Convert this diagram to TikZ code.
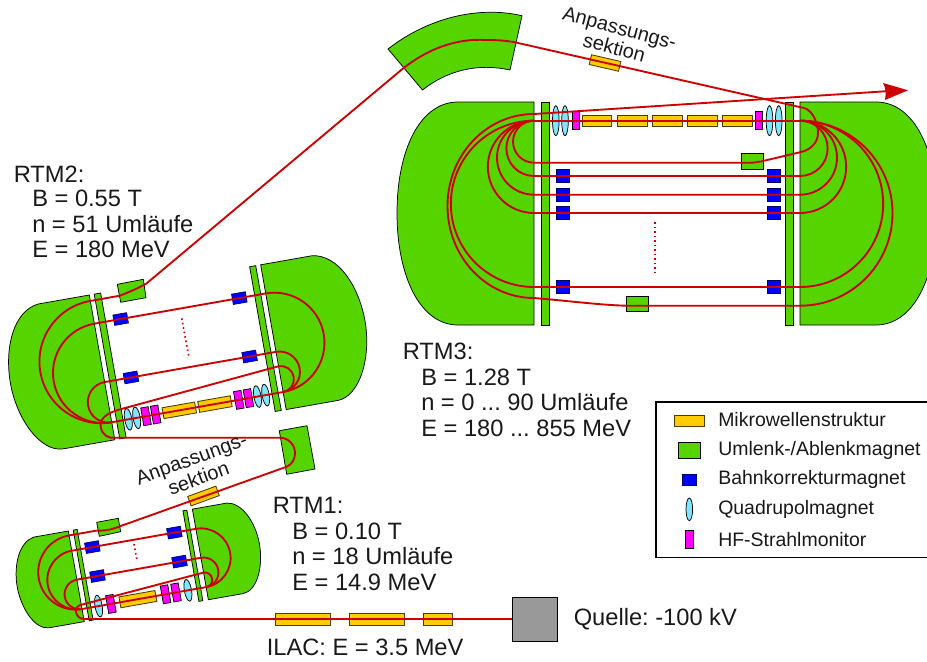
\documentclass[tikz,border=0pt]{standalone}
\usepackage{fontspec}
\setmainfont{Liberation Sans}
\frenchspacing
\definecolor{mgreen}{HTML}{55D400}
\definecolor{morange}{HTML}{FFCC00}
\definecolor{mcyan}{HTML}{80E5FF}
\definecolor{mred}{HTML}{CC0000}
\definecolor{mgray}{HTML}{999999}
\definecolor{mmag}{HTML}{FF00FF}
\definecolor{mblue}{HTML}{0000FF}
\tikzset{
 outl/.style={draw=black,line width=0.55pt},
 magnet/.style={outl,fill=mgreen},
 mw/.style={draw=black!70!morange,line width=0.65pt,fill=morange},
 corr/.style={draw=black!60!mblue,line width=0.5pt,fill=mblue},
 quad/.style={outl,fill=mcyan},
 mon/.style={outl,fill=mmag},
 beam/.style={draw=mred,line width=1.4pt,line join=round},
 dotbeam/.style={draw=mred,line width=1.2pt,dash pattern=on 1.2pt off 2.2pt},
 big/.style={font=\fontsize{17.75}{20}\selectfont,anchor=base west,inner sep=0pt,text=black!90},
 small/.style={font=\fontsize{14.6}{17}\selectfont,anchor=west,inner sep=0pt,text=black!90},
 rotlab/.style={font=\fontsize{15}{15.5}\selectfont,align=center,inner sep=0pt,text=black!90}
}
\newcommand{\compbox}[5]{\path[#1,shift={(#2,#3)}] ({-(#4)/2},{-(#5)/2}) rectangle ({(#4)/2},{(#5)/2});}
\begin{document}
\begin{tikzpicture}[x=0.75pt,y=-0.75pt]
\useasboundingbox (0,0) rectangle (927,661);
\clip (0,0) rectangle (927,661);
% ---------- RTM3
\path[magnet] (534,102) -- (458,102) .. controls (420,102) and (397,150) .. (397,213) .. controls (397,276) and (420,325) .. (458,325) -- (534,325) -- cycle;
\path[magnet] (800,102) -- (876,102) .. controls (914,102) and (937,150) .. (937,213) .. controls (937,276) and (914,325) .. (876,325) -- (800,325) -- cycle;
\path[magnet] (541,102) rectangle (549,325);
\path[magnet] (785.5,102) rectangle (793.5,325);
\path[magnet] (741.5,153.7) rectangle (763.5,169);
\path[magnet] (626.5,296.3) rectangle (648.5,311.3);
\path[magnet] (388,49) .. controls (425,20) and (475,5) .. (522,15.7) -- (510,70) .. controls (478,63) and (448,70) .. (422.5,90) -- cycle;
\foreach \c in {597,632.2,667.6,702.5,737.4} {\compbox{mw}{\c}{120.7}{29.5}{11}}
\foreach \c in {555.8,565,769.5,778.7} {\path[quad] (\c,120.7) ellipse[x radius=3.3,y radius=15];}
\compbox{mon}{575.7}{120.7}{7.4}{18}
\compbox{mon}{759}{120.7}{7.4}{18}
\foreach \v in {176,194.7,213,287} {\compbox{corr}{563}{\v}{13.5}{13.5}\compbox{corr}{774}{\v}{13.5}{13.5}}
\path[mw,rotate around={-13:(605,63)}] (590,58) rectangle (620,68);
\path[dotbeam] (655,222) -- (655,275);
% main turns
\path[beam] (534,120.7) -- (800,120.7);
\path[beam] (534,176) arc[start angle=90,end angle=270,radius=27.65];
\path[beam] (534,194.7) arc[start angle=90,end angle=270,radius=37];
\path[beam] (534,213) arc[start angle=90,end angle=270,radius=46.15];
\path[beam] (800,120.7) arc[start angle=-90,end angle=90,radius=27.65] -- (534,176);
\path[beam] (800,120.7) arc[start angle=-90,end angle=90,radius=37] -- (534,194.7);
\path[beam] (800,120.7) arc[start angle=-90,end angle=90,radius=46.15] -- (534,213);
\path[beam] (534,120.7) arc[start angle=270,end angle=90,radius=83.15] -- (800,287) arc[start angle=90,end angle=-90,radius=83.15];
% exit
\path[beam] (890,91) -- (534,114) arc[start angle=270,end angle=90,x radius=86.5,y radius=92] .. controls (570,301) and (600,305) .. (626,305.7) -- (800,305.7) arc[start angle=90,end angle=-90,radius=92.5];
\path[fill=mred] (908,90.3) -- (883,83) .. controls (886,88) and (886,94) .. (885,100) -- cycle;
% ---------- RTM2
\begin{scope}[shift={(89.3,295)},rotate=10]
 \path[magnet] (0,0) -- (-52,0) .. controls (-78,3) and (-93,38) .. (-93,73.5) .. controls (-93,110) and (-75,147) .. (-52,147) -- (0,147) -- cycle;
 \path[magnet] (174,0) -- (226,0) .. controls (252,3) and (267,38) .. (267,73.5) .. controls (267,110) and (249,147) .. (226,147) -- (174,147) -- cycle;
 \path[magnet] (5,0) rectangle (11.5,147);
 \path[magnet] (162.8,0) rectangle (169,147);
 \compbox{mw}{68.6}{129.2}{33}{11}
 \compbox{mw}{104.8}{129.2}{33}{11}
 \foreach \c in {16.8,25.3,148,156.3} {\path[quad] (\c,129.2) ellipse[x radius=3.6,y radius=11];}
 \foreach \c in {34.8,44.6,129,138.8} {\compbox{mon}{\c}{129.2}{7.6}{18}}
 \foreach \c/\v in {26.7/29.1,147.2/29.1,26.7/88.4,147.2/88.4} {\compbox{corr}{\c}{\v}{14}{10.5}}
 \path[beam] (0,129.2) -- (174,129.2);
 \path[beam] (0,88.4) arc[start angle=270,end angle=90,radius=20.4];
 \path[beam] (0,29.1) arc[start angle=270,end angle=90,radius=50.05];
 \path[beam] (174,129.2) arc[start angle=90,end angle=-90,radius=20.4] -- (0,88.4);
 \path[beam] (174,129.2) arc[start angle=90,end angle=-90,radius=50.05] -- (0,29.1);
 \path[beam] (0,129.2) arc[start angle=90,end angle=270,radius=61.6] coordinate (rtwoout) -- (30,6);
 \path[beam] (174,129.2) arc[start angle=90,end angle=-90,radius=13.1] -- (10,118) .. controls (0,119) and (-11.7,122) .. (-11.7,132) .. controls (-11.7,140) and (-6,145) .. (0.5,145) coordinate (rtwoin);
 \coordinate (rtwoA) at (30,6);
\end{scope}
\path[magnet] (117.3,284.3) -- (143.3,279.3) -- (146,297.7) -- (120.7,302.3) -- cycle;
\path[magnet] (279.3,430.7) -- (307,425.7) -- (315,469) -- (286.7,474.3) -- cycle;
\path[dotbeam] (181.7,318.3) -- (189,357.3);
\path[beam] (rtwoA) .. controls (122,294.5) and (131,292) .. (146.7,283.3) -- (400,71) .. controls (425,50) and (455,38) .. (486,40) .. controls (497,40) and (505,40.5) .. (515,42.3) -- (804,108) .. controls (812,110) and (818,122) .. (818,133) .. controls (818,143) and (810,150) .. (801,152) -- (763,161) .. controls (758,162) and (755,162.7) .. (750,162.7) -- (534,162.7) arc[start angle=90,end angle=270,radius=21];
% ---------- RTM1
\begin{scope}[shift={(68.3,531)},rotate=10]
 \path[magnet] (0,0) -- (-35,0) .. controls (-50,2) and (-60,24) .. (-60,46) .. controls (-60,68) and (-50,92) .. (-35,92) -- (0,92) -- cycle;
 \path[magnet] (126,0) -- (161,0) .. controls (176,2) and (186,24) .. (186,46) .. controls (186,68) and (176,92) .. (161,92) -- (126,92) -- cycle;
 \path[magnet] (5,0) rectangle (9,92);
 \path[magnet] (116.4,0) rectangle (120.4,92);
 \compbox{mw}{56.7}{79.2}{36.5}{11}
 \foreach \c in {16.8,107.5} {\path[quad] (\c,79.2) ellipse[x radius=3.6,y radius=11];}
 \foreach \c in {29.3,84.8,95.4} {\compbox{mon}{\c}{79.2}{7.6}{18}}
 \foreach \c/\v in {20.9/20,104.2/20,20.9/49.4,104.2/49.4} {\compbox{corr}{\c}{\v}{14}{10.5}}
 \path[beam] (0,79.2) -- (126,79.2);
 \path[beam] (0,49.4) arc[start angle=270,end angle=90,radius=14.9];
 \path[beam] (0,20) arc[start angle=270,end angle=90,radius=29.6];
 \path[beam] (126,79.2) arc[start angle=90,end angle=-90,radius=14.9] -- (0,49.4);
 \path[beam] (126,79.2) arc[start angle=90,end angle=-90,radius=29.6] -- (0,20);
 \path[beam] (0,79.2) arc[start angle=90,end angle=270,radius=37.35] -- (28,4.5);
 \coordinate (roneA) at (28,4.5);
 \path[beam] (126,79.2) arc[start angle=90,end angle=-90,radius=7.4] -- (126,64.4) -- (-1.3,75) .. controls (-5,76) and (-6.5,78) .. (-6.5,81) .. controls (-6.5,85) and (-4,89) .. (0.5,89.3) coordinate (roneB);
\end{scope}
\path[magnet] (96.7,522.3) -- (118.3,518.3) -- (120.7,531.7) -- (99.3,536.3) -- cycle;
\path[mw,rotate around={20:(203.5,496)}] (188.5,491) rectangle (218.5,501);
\path[dotbeam] (134,544) -- (137.3,561.7);
\path[beam] (roneA) .. controls (107,531) and (113,529) .. (120.7,526) -- (286.7,466.7) .. controls (292,464.5) and (295,459) .. (295,453.3) .. controls (295,445) and (289,438) .. (280,437.7) -- (rtwoin);
% ---------- ILAC
\foreach \a/\b in {275/330,349/404,423/452} {\path[mw] (\a,613) rectangle (\b,625);}
\path[beam] (roneB) -- (84,619) -- (512,619);
\path[outl,fill=mgray] (512,597) rectangle (557,641);
% ---------- texts
\node[big] (t2a) at (13.5,182) {RTM2:};
\node[big] (t2b) at (32,206.5) {B = 0.55 T};
\node[big] (t2c) at (32,232) {n = 51 Umläufe};
\node[big] (t2d) at (32,257.5) {E = 180 MeV};
\node[big] (t3a) at (402.5,359.5) {RTM3:};
\node[big] (t3b) at (421,385) {B = 1.28 T};
\node[big] (t3c) at (421,410.5) {n = 0 ... 90 Umläufe};
\node[big] (t3d) at (421,436) {E = 180 ... 855 MeV};
\node[big] (t1a) at (272.5,513.5) {RTM1:};
\node[big] (t1b) at (292,539) {B = 0.10 T};
\node[big] (t1c) at (292,564.5) {n = 18 Umläufe};
\node[big] (t1d) at (292,590) {E = 14.9 MeV};
\node[big] (tq) at (573.5,625) {Quelle: -100 kV};
\node[big] (tl) at (266.5,655.5) {ILAC: E = 3.5 MeV};
\node[rotlab,rotate=-15] (ta1) at (617,38) {Anpassungs-\\sektion};
\node[rotlab,rotate=20] (ta2) at (195,468.5) {Anpassungs-\\sektion};
% ---------- legend
\path[draw=black,line width=0.8pt,fill=white] (656,402) rectangle (940,557.5);
\path[mw] (674.3,415) rectangle (704.3,426);
\path[magnet] (678.3,442.7) rectangle (700.7,458);
\path[corr] (682.7,474.3) rectangle (696,485.7);
\path[quad] (689.3,509.3) ellipse[x radius=3.3,y radius=11.3];
\path[mon] (685.7,530) rectangle (693.7,548.3);
\node[small] (l1) at (718,420) {Mikrowellenstruktur};
\node[small] (l2) at (718,450) {Umlenk-/Ablenkmagnet};
\node[small] (l3) at (718,479.5) {Bahnkorrekturmagnet};
\node[small] (l4) at (718,509.5) {Quadrupolmagnet};
\node[small] (l5) at (718,539.5) {HF-Strahlmonitor};
\end{tikzpicture}
\end{document}
